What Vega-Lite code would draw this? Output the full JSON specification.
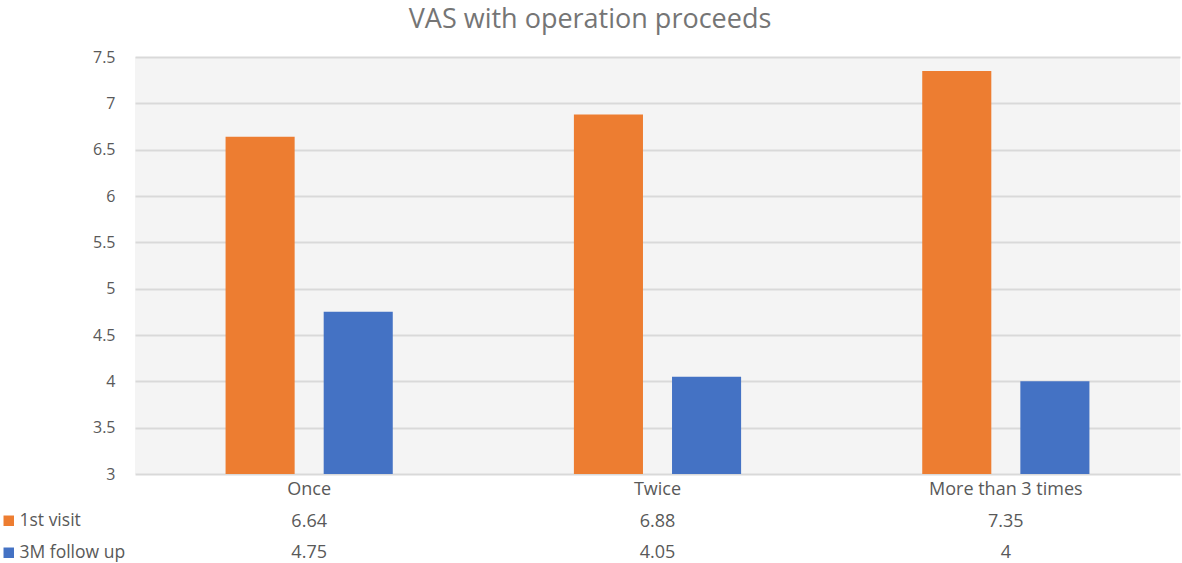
{
  "$schema": "https://vega.github.io/schema/vega-lite/v6.json",
  "padding": {"left": 0, "top": 6, "right": 2, "bottom": 0},
  "autosize": {"type": "pad"},
  "bounds": "flush",
  "spacing": 0,
  "title": {"text": "VAS with operation proceeds", "fontSize": 27, "font": "Open Sans", "fontWeight": "normal", "color": "#757575", "anchor": "middle", "frame": "bounds", "offset": 15},
  "config": {
    "view": {"stroke": null},
    "font": "Open Sans",
    "legend": {"orient": "none", "legendX": -135, "legendY": 455, "title": null}
  },
  "data": {
    "values": [
      {"category": "Once", "series": "1st visit", "value": 6.64},
      {"category": "Once", "series": "3M follow up", "value": 4.75},
      {"category": "Twice", "series": "1st visit", "value": 6.88},
      {"category": "Twice", "series": "3M follow up", "value": 4.05},
      {"category": "More than 3 times", "series": "1st visit", "value": 7.35},
      {"category": "More than 3 times", "series": "3M follow up", "value": 4}
    ]
  },
  "vconcat": [
    {
      "width": 1045,
      "height": 417,
      "view": {"fill": "#f4f4f4", "stroke": null},
      "mark": {"type": "bar"},
      "encoding": {
        "x": {"field": "category", "type": "nominal", "sort": ["Once", "Twice", "More than 3 times"], "scale": {"paddingInner": 0, "paddingOuter": 0}, "axis": null},
        "xOffset": {"field": "series", "type": "nominal", "sort": ["1st visit", "3M follow up"], "scale": {"paddingInner": 0.296, "paddingOuter": 0.923}},
        "y": {
          "field": "value", "type": "quantitative",
          "scale": {"domain": [3, 7.5], "nice": false, "zero": false},
          "axis": {"values": [3, 3.5, 4, 4.5, 5, 5.5, 6, 6.5, 7, 7.5], "format": "~g", "grid": true, "gridColor": "#d9d9d9", "gridWidth": 2, "domain": false, "ticks": false, "labelPadding": 20, "labelFontSize": 16, "labelColor": "#595959", "labelFont": "Open Sans", "title": null}
        },
        "y2": {"datum": 3},
        "color": {
          "field": "series", "type": "nominal",
          "scale": {"domain": ["1st visit", "3M follow up"], "range": ["#ED7D31", "#4472C4"]},
          "legend": {"symbolType": "square", "symbolSize": 110, "symbolStrokeWidth": 0, "labelFontSize": 17.5, "labelColor": "#595959", "labelFont": "Open Sans", "labelOffset": 2, "rowPadding": 13, "direction": "vertical", "symbolOffset": 0, "padding": 0}
        }
      }
    },
    {
      "width": 1045,
      "height": 95,
      "layer": [
        {
          "transform": [{"filter": "datum.series === '1st visit'"}],
          "mark": {"type": "text", "fontSize": 18, "color": "#595959", "font": "Open Sans"},
          "encoding": {
            "x": {"field": "category", "type": "nominal", "sort": ["Once", "Twice", "More than 3 times"], "scale": {"paddingInner": 0, "paddingOuter": 0}, "axis": null},
            "y": {"datum": "header", "type": "nominal", "scale": {"domain": ["header", "1st visit", "3M follow up"]}, "axis": null},
            "text": {"field": "category", "type": "nominal"}
          }
        },
        {
          "mark": {"type": "text", "fontSize": 18, "color": "#595959", "font": "Open Sans"},
          "encoding": {
            "x": {"field": "category", "type": "nominal", "sort": ["Once", "Twice", "More than 3 times"], "axis": null},
            "y": {"field": "series", "type": "nominal", "axis": null},
            "text": {"field": "value", "type": "quantitative", "format": "~g"}
          }
        }
      ]
    }
  ]
}
